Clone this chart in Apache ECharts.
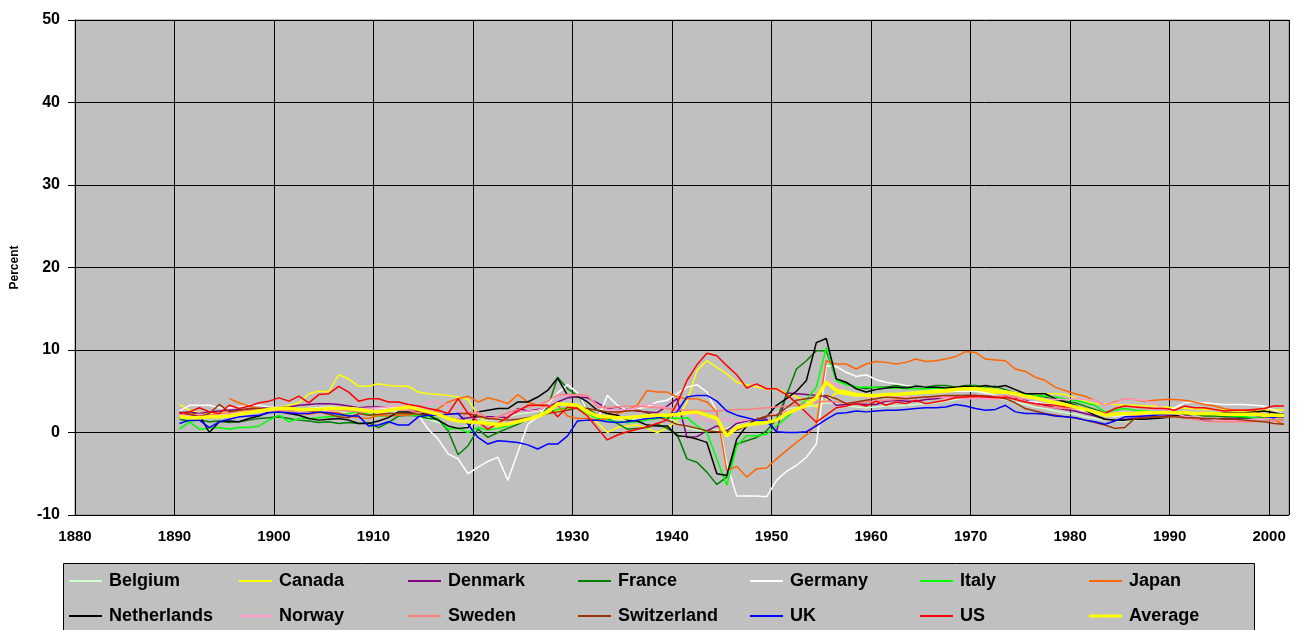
<!DOCTYPE html>
<html>
<head>
<meta charset="utf-8">
<script src="https://cdn.jsdelivr.net/npm/echarts@6/dist/echarts.min.js"></script>
<style>
  html, body { margin: 0; padding: 0; background: #fff; }
  #chart { width: 1301px; height: 630px; }
</style>
</head>
<body>
<div id="chart"></div>
<script>
// yearly values 1890 .. 2001, percent
var firstYear = 1890;

var belgium = [
  2.0, 2.2, 2.1, 1.8, 2.0, 2.2, 2.3, 2.4, 2.5, 2.6,
  2.5, 2.4, 2.5, 2.6, 2.7, 2.6, 2.5, 2.4, 2.3, 2.4,
  2.5, 2.6, 2.5, 2.3, 2.0, 1.6, 1.2, 0.8, 0.5, 0.8,
  1.3, 1.5, 1.6, 1.9, 2.2, 2.4, 2.6, 2.9, 3.3, 3.5,
  3.2, 2.6, 2.1, 1.8, 1.6, 1.5, 1.6, 1.8, 1.9, 1.9,
  1.2, 0.6, 0.3, 0.2, 0.3, 0.5, 0.9, 1.4, 1.8, 2.0,
  2.4, 2.8, 3.0, 3.1, 3.3, 3.6, 3.5, 3.2, 3.1, 3.0,
  3.1, 3.2, 3.2, 3.3, 3.4, 3.5, 3.6, 3.8, 4.0, 4.2,
  4.4, 4.3, 4.2, 4.0, 3.7, 3.4, 3.1, 2.9, 2.6, 2.4,
  2.2, 1.9, 1.7, 1.5, 1.4, 1.4, 1.5, 1.6, 1.7, 1.8,
  2.0, 2.1, 2.2, 2.2, 2.1, 2.0, 2.0, 2.0, 2.1, 2.1,
  2.2, 2.2
];
var canada = [
  3.4, 2.7, 2.4, 2.3, 2.4, 2.5, 2.6, 2.6, 2.7, 2.9,
  3.0, 3.3, 3.6, 4.7, 5.0, 4.9, 7.0, 6.5, 5.6, 5.6,
  5.9, 5.7, 5.6, 5.6, 4.9, 4.7, 4.6, 4.5, 4.3, 4.0,
  2.1, 1.0, 0.6, 0.8, 1.2, 1.5, 1.8, 2.3, 2.6, 3.0,
  3.0, 2.0, 1.2, 0.0, 0.6, 0.8, 0.9, 0.5, 0.0, 0.5,
  1.5, 3.7, 7.5, 8.7, 7.9, 7.1, 6.1, 5.8, 5.5, 5.3,
  5.3, 4.8, 4.3, 3.8, 3.1, 3.9, 4.8, 4.6, 4.4, 4.4,
  4.5, 4.5, 4.6, 4.6, 4.7, 4.8, 4.8, 4.9, 5.0, 5.0,
  5.0, 4.9, 4.8, 4.8, 4.7, 4.7, 4.7, 4.7, 4.7, 4.6,
  4.2, 3.8, 3.5, 3.5, 3.4, 3.3, 3.3, 3.2, 3.2, 3.1,
  3.0, 2.9, 2.9, 2.8, 2.8, 2.7, 2.6, 2.6, 2.6, 2.7,
  2.8, 2.7
];
var denmark = [
  2.4, 2.5, 2.3, 2.5, 2.6, 2.7, 2.8, 2.8, 2.9, 3.0,
  3.0, 3.1, 3.3, 3.4, 3.5, 3.5, 3.4, 3.2, 3.0, 3.1,
  3.1, 3.0, 2.9, 3.0, 2.6, 2.3, 2.2, 1.8, 1.6, 1.8,
  1.9, 1.9, 1.9, 1.8, 2.9, 2.6, 2.8, 3.0, 3.7, 4.2,
  4.3, 4.2, 3.6, 2.9, 3.1, 2.8, 2.6, 2.5, 2.4, 3.2,
  4.1, -0.6, -0.5, 0.2, 0.8, 0.2, 1.1, 1.4, 1.7, 1.6,
  0.1, 4.8, 4.7, 4.6, 4.5, 4.3, 3.3, 3.4, 3.5, 3.4,
  3.4, 3.8, 3.9, 3.8, 3.8, 4.0, 4.1, 4.3, 4.4, 4.5,
  4.5, 4.4, 4.4, 4.3, 4.1, 3.9, 3.6, 3.3, 3.0, 2.8,
  2.6, 2.3, 2.0, 1.6, 1.5, 1.6, 1.7, 1.8, 1.9, 2.0,
  2.1, 2.0, 1.8, 1.5, 1.6, 1.7, 1.7, 1.7, 1.8, 1.9,
  1.9, 1.8
];
var france = [
  1.6, 1.4, 1.5, 1.3, 1.4, 1.2, 1.3, 1.5, 1.7, 1.8,
  1.9, 1.7, 1.5, 1.4, 1.2, 1.3, 1.1, 1.2, 1.1, 1.2,
  0.6, 1.2, 2.0, 2.1, 2.0, 1.7, 1.6, 0.2, -2.7, -1.6,
  0.4, -0.6, 0.0, 0.5, 1.0, 1.6, 2.1, 3.0, 6.7, 5.3,
  4.5, 2.9, 2.1, 1.7, 1.1, 0.4, 0.5, 0.6, 1.0, 0.5,
  -0.2, -3.2, -3.6, -4.8, -6.3, -5.4, -1.4, -1.0, -0.6, 0.2,
  1.6, 4.5, 7.7, 8.7, 9.9, 9.9, 6.5, 6.0, 5.5, 5.3,
  5.5, 5.5, 5.7, 5.6, 5.7, 5.5, 5.7, 5.7, 5.5, 5.7,
  5.7, 5.5, 5.6, 5.2, 4.8, 4.7, 4.5, 4.3, 4.0, 3.8,
  3.6, 3.2, 2.8, 2.4, 2.2, 2.2, 2.3, 2.2, 2.2, 2.3,
  2.3, 2.2, 2.2, 2.0, 2.0, 1.9, 1.9, 1.8, 1.8, 1.8,
  1.9, 1.9
];
var germany = [
  2.6, 3.3, 3.3, 3.3, 3.0, 3.0, 3.1, 3.3, 3.3, 3.1,
  3.0, 2.9, 2.8, 2.9, 3.0, 3.1, 3.0, 3.0, 2.9, 2.9,
  2.9, 3.0, 3.0, 2.7, 2.1, 0.4, -0.8, -2.6, -3.2, -5.0,
  -4.2, -3.5, -3.0, -5.8, -2.4, 1.0, 1.9, 3.4, 4.8, 5.8,
  4.8, 2.7, 1.5, 4.5, 3.3, 2.7, 2.9, 3.1, 3.7, 3.9,
  4.7, 5.5, 5.8, 4.9, 2.5, -3.8, -7.7, -7.7, -7.7, -7.8,
  -5.8, -4.7, -4.0, -3.0, -1.4, 8.1, 8.0, 7.3, 6.8, 7.0,
  6.4, 6.1, 5.9, 5.7, 5.6, 5.5, 5.3, 5.2, 5.0, 5.0,
  5.0, 4.8, 4.5, 4.3, 4.0, 3.8, 3.7, 3.5, 3.3, 3.1,
  2.9, 2.6, 2.3, 2.1, 2.0, 2.1, 2.2, 2.2, 2.3, 2.4,
  3.0, 3.6, 3.7, 3.6, 3.5, 3.4, 3.4, 3.4, 3.3, 3.2,
  2.7, 2.2
];
var italy = [
  0.4, 1.3, 0.4, 0.5, 0.6, 0.4, 0.6, 0.6, 0.8, 1.5,
  2.1, 1.3, 1.7, 1.7, 1.8, 1.9, 2.0, 2.3, 2.5, 2.2,
  2.0, 2.0, 2.1, 2.1, 2.1, 2.0, 1.7, 0.4, 0.5, 0.0,
  0.6, 0.3, 0.5, 0.8, 1.2, 1.8, 2.0, 2.3, 2.8, 3.0,
  2.9, 2.3, 1.7, 1.5, 1.3, 1.2, 1.3, 1.5, 1.7, 1.8,
  1.7, 1.8, 0.8, 0.0, -3.2, -6.4, -1.6, -0.4, -0.4, -0.2,
  0.8, 1.8, 2.9, 4.0, 5.5, 10.3, 6.3, 5.8, 5.5, 5.5,
  5.5, 5.4, 5.4, 5.3, 5.3, 5.3, 5.4, 5.3, 5.3, 5.4,
  5.5, 5.4, 5.2, 5.0, 4.7, 4.6, 4.5, 4.4, 4.3, 4.1,
  3.9, 3.6, 3.3, 2.5, 2.7, 2.9, 2.7, 2.6, 2.5, 2.5,
  2.5, 2.4, 2.3, 2.2, 2.2, 2.1, 2.0, 1.9, 1.8, 1.7,
  1.6, 1.6
];
var japan = [
  null, null, null, null, null, 4.1, 3.6, 3.2, 2.9, 2.7,
  2.6, 2.5, 2.3, 2.2, 2.4, 2.5, 2.4, 2.0, 1.8, 1.7,
  2.1, 2.0, 2.1, 2.1, 2.5, 2.1, 2.9, 3.7, 4.1, 4.4,
  3.7, 4.2, 3.9, 3.5, 4.6, 3.7, 3.3, 3.1, 3.3, 2.0,
  1.7, 1.7, 1.5, 1.7, 2.3, 2.7, 3.3, 5.1, 4.9, 4.9,
  4.3, 4.1, 4.1, 3.7, 2.5, -4.6, -4.1, -5.4, -4.4, -4.3,
  -3.2, -2.2, -1.2, -0.3, 1.0, 8.7, 8.3, 8.3, 7.7, 8.3,
  8.6, 8.5, 8.3, 8.5, 8.9, 8.6, 8.7, 8.9, 9.2, 9.8,
  9.7, 8.9, 8.8, 8.7, 7.7, 7.4, 6.7, 6.3, 5.5, 5.1,
  4.7, 4.4, 3.9, 3.3, 3.7, 4.1, 4.0, 3.8, 3.9, 4.0,
  4.0, 3.9, 3.7, 3.4, 3.2, 2.9, 2.7, 2.7, 2.7, 2.1,
  1.5, 1.0
];
var netherlands = [
  1.8, 2.3, 2.1, 0.0, 1.3, 1.4, 1.3, 1.7, 2.0, 2.5,
  2.5, 2.3, 2.1, 1.7, 1.5, 1.6, 1.7, 1.5, 1.1, 1.1,
  1.4, 1.8, 2.5, 2.5, 2.5, 2.1, 1.5, 0.8, 0.5, 0.6,
  2.5, 2.7, 2.9, 2.9, 3.7, 3.7, 4.3, 5.1, 6.6, 4.5,
  4.4, 3.7, 2.7, 2.3, 2.1, 1.5, 1.4, 0.9, 0.8, 0.8,
  -0.4, -0.5, -0.8, -1.2, -5.0, -5.2, -0.8, 0.8, 1.7, 1.9,
  3.3, 4.1, 5.0, 6.3, 10.9, 11.4, 6.5, 6.1, 5.3, 4.9,
  5.2, 5.4, 5.5, 5.4, 5.6, 5.5, 5.5, 5.4, 5.5, 5.6,
  5.5, 5.7, 5.5, 5.7, 5.2, 4.7, 4.7, 4.7, 4.1, 3.7,
  3.3, 2.7, 2.1, 1.6, 1.5, 1.5, 1.6, 1.6, 1.7, 1.8,
  2.0, 2.1, 2.2, 2.3, 2.3, 2.4, 2.4, 2.4, 2.5, 2.6,
  2.4, 2.2
];
var norway = [
  2.0, 2.1, 2.2, 2.1, 2.0, 2.2, 2.3, 2.4, 2.5, 2.6,
  2.6, 2.5, 2.4, 2.4, 2.5, 2.6, 2.7, 2.8, 2.8, 2.9,
  3.0, 3.1, 3.2, 3.2, 3.1, 3.7, 3.7, 3.3, 2.6, 2.3,
  2.3, 1.7, 1.9, 2.2, 2.5, 2.6, 2.7, 3.2, 4.3, 4.5,
  4.5, 4.5, 3.3, 2.8, 2.7, 2.8, 3.0, 3.5, 3.3, 3.0,
  2.9, 2.5, 2.0, 1.5, 1.3, 1.7, 1.3, 1.5, 1.7, 2.0,
  2.3, 2.6, 2.9, 3.1, 4.5, 6.3, 5.7, 4.9, 4.5, 4.3,
  4.3, 4.3, 4.3, 4.3, 4.3, 4.3, 4.3, 4.2, 4.2, 4.1,
  4.1, 4.1, 4.0, 4.2, 4.3, 4.1, 4.2, 4.1, 4.0, 4.0,
  4.1, 4.0, 3.9, 3.3, 3.6, 4.1, 4.0, 3.9, 3.5, 2.8,
  2.3, 2.0, 1.8, 1.7, 1.6, 1.5, 1.5, 1.5, 1.6, 1.7,
  1.7, 1.7
];
var sweden = [
  2.2, 2.3, 2.0, 2.1, 2.3, 2.4, 2.6, 2.7, 2.8, 2.8,
  2.7, 2.6, 2.6, 2.8, 2.9, 2.8, 2.7, 2.6, 2.5, 2.5,
  2.6, 2.7, 2.8, 2.7, 2.4, 2.6, 2.5, 1.8, 1.6, 2.4,
  2.5, 1.6, 1.9, 2.4, 2.8, 3.1, 3.3, 3.8, 4.6, 4.6,
  4.6, 4.5, 3.1, 3.0, 3.1, 3.2, 3.2, 3.1, 3.0, 2.9,
  2.8, 2.7, 2.7, 2.6, 2.6, 2.7, 2.8, 2.8, 2.9, 3.0,
  3.1, 3.2, 3.3, 3.5, 3.7, 3.8, 3.7, 3.6, 3.6, 3.7,
  3.8, 3.9, 4.0, 4.1, 4.2, 4.3, 4.3, 4.4, 4.3, 4.3,
  4.3, 4.3, 4.4, 4.5, 4.3, 3.8, 3.3, 3.1, 3.0, 2.9,
  2.9, 2.8, 2.6, 2.4, 2.3, 2.2, 2.1, 2.1, 2.0, 1.9,
  1.9, 1.8, 1.6, 1.4, 1.3, 1.3, 1.3, 1.3, 1.3, 1.4,
  1.5, 1.5
];
var switzerland = [
  2.5, 2.2, 1.9, 2.3, 3.4, 2.5, 2.7, 2.9, 2.9, 2.9,
  2.9, 2.8, 2.7, 2.6, 2.5, 2.2, 1.9, 1.8, 2.3, 2.1,
  2.2, 2.3, 2.3, 2.3, 2.2, 2.1, 2.1, 2.2, 2.3, 2.3,
  2.0, 1.7, 1.6, 1.5, 1.6, 1.8, 2.0, 2.3, 2.5, 2.7,
  3.0, 2.9, 2.7, 2.5, 2.5, 2.6, 2.7, 2.4, 1.9, 1.5,
  1.0, 0.8, 0.5, 0.2, 0.1, 0.0, 0.3, 0.8, 1.6, 2.0,
  2.1, 3.0, 3.9, 4.1, 4.3, 4.5, 4.1, 3.5, 3.7, 3.9,
  4.1, 4.3, 4.2, 4.1, 4.2, 4.3, 4.4, 4.5, 4.5, 4.5,
  4.5, 4.4, 4.3, 4.1, 3.6, 2.9, 2.6, 2.3, 2.1, 1.9,
  1.8, 1.5, 1.2, 0.9, 0.5, 0.6, 1.7, 1.8, 1.9, 1.9,
  1.9, 1.8, 1.8, 1.7, 1.7, 1.6, 1.6, 1.5, 1.4, 1.3,
  1.1, 1.0
];
var uk = [
  1.1, 1.5, 1.5, 0.6, 1.3, 1.6, 1.9, 2.0, 2.1, 2.4,
  2.5, 2.4, 2.3, 2.3, 2.5, 2.4, 2.2, 2.0, 2.0, 0.8,
  0.9, 1.3, 0.9, 0.9, 1.9, 2.1, 2.1, 2.2, 2.3, 1.0,
  -0.6, -1.4, -1.0, -1.1, -1.2, -1.5, -2.0, -1.4, -1.4, -0.4,
  1.4, 1.5, 1.5, 1.3, 1.2, 1.3, 1.5, 1.7, 1.8, 2.0,
  2.5, 4.3, 4.5, 4.5, 3.8, 2.6, 2.1, 1.8, 1.5, 1.4,
  0.1, 0.0, 0.0, 0.1, 0.8, 1.6, 2.3, 2.4, 2.6, 2.5,
  2.6, 2.7, 2.7, 2.8, 2.9, 3.0, 3.0, 3.1, 3.4, 3.2,
  2.9, 2.7, 2.8, 3.3, 2.5, 2.3, 2.3, 2.2, 2.0, 1.9,
  1.8, 1.5, 1.3, 1.0, 1.4, 1.9, 1.9, 2.0, 2.1, 2.2,
  2.3, 2.4, 2.4, 2.4, 2.3, 2.3, 2.2, 2.1, 2.1, 2.0,
  1.8, 2.3
];
var us = [
  2.3, 2.5, 3.0, 2.5, 2.3, 3.3, 2.9, 3.2, 3.6, 3.8,
  4.2, 3.8, 4.4, 3.6, 4.6, 4.7, 5.6, 4.9, 3.8, 4.1,
  4.1, 3.7, 3.7, 3.4, 3.2, 2.9, 2.7, 2.3, 4.1, 2.3,
  1.3, 0.4, 1.1, 1.9, 2.6, 3.3, 3.3, 3.3, 1.9, 3.1,
  2.9, 2.0, 0.5, -0.9, -0.3, 0.1, 0.4, 0.7, 1.1, 1.5,
  3.5, 6.3, 8.2, 9.6, 9.3, 8.1, 7.0, 5.4, 5.9, 5.3,
  5.3, 4.6, 3.6, 2.4, 1.25, 2.1, 3.0, 3.2, 3.5, 3.2,
  3.8, 3.3, 3.7, 3.5, 3.9, 3.5, 3.7, 3.9, 4.2, 4.3,
  4.4, 4.3, 4.2, 4.3, 4.0, 3.7, 3.5, 3.4, 3.3, 3.1,
  3.1, 2.9, 2.5, 2.3, 2.9, 3.2, 3.1, 3.0, 2.9, 2.9,
  2.7, 3.2, 3.0, 3.0, 2.8, 2.6, 2.7, 2.7, 2.8, 2.9,
  3.2, 3.2
];
var average = [
  1.9, 1.8, 1.8, 1.9, 1.9, 2.0, 2.2, 2.4, 2.6, 2.8,
  2.9, 2.9, 2.8, 2.8, 2.8, 2.9, 2.9, 2.9, 2.8, 2.6,
  2.5, 2.7, 2.9, 3.1, 2.8, 2.5, 2.2, 1.7, 1.4, 1.3,
  1.2, 1.1, 1.0, 1.0, 1.3, 1.6, 2.0, 2.5, 3.5, 3.4,
  3.3, 2.5, 2.0, 1.9, 1.8, 1.8, 1.9, 2.0, 2.1, 2.1,
  2.2, 2.4, 2.5, 2.1, 1.7, -0.4, 0.6, 0.9, 1.1, 1.2,
  1.5, 2.3, 2.8, 3.3, 4.2, 6.1, 5.1, 4.9, 4.6, 4.5,
  4.5, 4.6, 4.6, 4.7, 4.8, 4.9, 5.0, 5.1, 5.2, 5.3,
  5.3, 5.2, 5.1, 4.9, 4.7, 4.4, 4.2, 3.9, 3.6, 3.4,
  3.1, 2.8, 2.5, 2.1, 2.2, 2.3, 2.3, 2.4, 2.4, 2.4,
  2.4, 2.4, 2.3, 2.3, 2.3, 2.2, 2.2, 2.2, 2.2, 2.1,
  2.1, 2.1
];

var seriesList = [
  { name: 'Belgium', values: belgium, color: '#ccffcc' },
  { name: 'Canada', values: canada, color: '#ffff00' },
  { name: 'Denmark', values: denmark, color: '#800080' },
  { name: 'France', values: france, color: '#008000' },
  { name: 'Germany', values: germany, color: '#ffffff' },
  { name: 'Italy', values: italy, color: '#00ff00' },
  { name: 'Japan', values: japan, color: '#ff6600' },
  { name: 'Netherlands', values: netherlands, color: '#000000' },
  { name: 'Norway', values: norway, color: '#ff99cc' },
  { name: 'Sweden', values: sweden, color: '#ff8080' },
  { name: 'Switzerland', values: switzerland, color: '#993300' },
  { name: 'UK', values: uk, color: '#0000ff' },
  { name: 'US', values: us, color: '#ff0000' },
  { name: 'Average', values: average, color: '#ffff00' }
];

var font = 'Arial, "Liberation Sans", sans-serif';
var legendCols = [69, 239, 408, 578, 750, 920, 1089];
var legendRows = [572, 607];

var chart = echarts.init(document.getElementById('chart'), null, { renderer: 'canvas' });

var option = {
  animation: false,
  backgroundColor: '#ffffff',
  grid: {
    left: 75, right: 12, top: 20, bottom: 115,
    show: true,
    backgroundColor: '#c0c0c0',
    borderColor: '#808080',
    borderWidth: 1
  },
  xAxis: {
    type: 'value',
    min: 1880,
    max: 2002,
    interval: 10,
    axisLine: { lineStyle: { color: '#000', width: 1 } },
    axisTick: { show: true, length: 5, lineStyle: { color: '#000' } },
    axisLabel: {
      color: '#000', fontSize: 15, fontWeight: 'bold', fontFamily: font,
      margin: 14, showMaxLabel: false,
      formatter: function (v) { return String(v); }
    },
    splitLine: { show: true, lineStyle: { color: '#000', width: 1 } }
  },
  yAxis: {
    type: 'value',
    min: -10,
    max: 50,
    interval: 10,
    name: 'Percent',
    nameLocation: 'middle',
    nameRotate: 90,
    nameGap: 54,
    nameTextStyle: { color: '#000', fontSize: 12, fontWeight: 'bold', fontFamily: font },
    axisLine: { show: true, lineStyle: { color: '#000', width: 1 } },
    axisTick: { show: true, length: 7, lineStyle: { color: '#000' } },
    axisLabel: {
      color: '#000', fontSize: 16, fontWeight: 'bold', fontFamily: font, margin: 15
    },
    splitLine: { show: true, lineStyle: { color: '#000', width: 1 } }
  },
  graphic: [{
    type: 'rect',
    left: 63, top: 563,
    shape: { width: 1191, height: 80 },
    style: { fill: '#c0c0c0', stroke: '#000', lineWidth: 1 },
    silent: true,
    z: 1
  }],
  legend: seriesList.map(function (s, i) {
    return {
      data: [s.name],
      left: legendCols[i % 7],
      top: legendRows[Math.floor(i / 7)],
      orient: 'horizontal',
      padding: 0,
      icon: 'rect',
      itemWidth: 33,
      itemHeight: s.name === 'Average' ? 3 : 2,
      selectedMode: false,
      z: 5,
      textStyle: { color: '#000', fontSize: 18, fontWeight: 'bold', fontFamily: font, padding: [0, 0, 0, 2] }
    };
  }),
  series: seriesList.map(function (s) {
    return {
      name: s.name,
      type: 'line',
      // annual values drawn at mid-year
      data: s.values.map(function (v, i) { return [firstYear + i + 0.5, v]; }),
      symbol: 'none',
      showSymbol: false,
      connectNulls: false,
      silent: true,
      itemStyle: { color: s.color },
      lineStyle: { color: s.color, width: s.name === 'Average' ? 3.5 : 1.5 }
    };
  })
};

chart.setOption(option);
</script>
</body>
</html>
